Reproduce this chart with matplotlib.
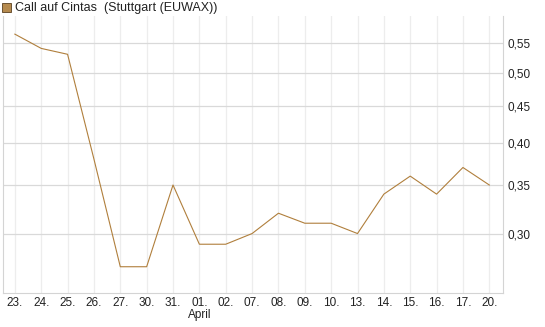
import numpy as np
import matplotlib.pyplot as plt
import matplotlib.ticker as mticker
from matplotlib.patches import Rectangle

plt.rcParams['font.family'] = ['Liberation Sans', 'DejaVu Sans']

days = ['23.', '24.', '25.', '26.', '27.', '30.', '31.', '01.', '02.', '07.',
        '08.', '09.', '10.', '13.', '14.', '15.', '16.', '17.', '20.']
prices = [0.565, 0.54, 0.53, 0.38, 0.27, 0.27, 0.35, 0.29, 0.29, 0.30,
          0.32, 0.31, 0.31, 0.30, 0.34, 0.36, 0.34, 0.37, 0.35]
yticks = [0.30, 0.35, 0.40, 0.45, 0.50, 0.55]
month_label = 'April'
month_at = 7
title = 'Call auf Cintas  (Stuttgart (EUWAX))'

line_col = '#b07f3c'
fig = plt.figure(figsize=(5.45, 3.27), dpi=100)
ax = fig.add_axes([3/545, 34/327, 500/545, 277/327])

x = np.arange(len(days))
ax.plot(x, prices, color=line_col, lw=0.8)

ax.set_yscale('log')
ax.set_ylim(0.2484, 0.5985)
ax.set_xlim(-0.45, len(days) - 0.48)

ax.yaxis.set_major_locator(mticker.FixedLocator(yticks))
ax.yaxis.set_minor_locator(mticker.NullLocator())
ax.yaxis.set_major_formatter(mticker.FixedFormatter([f'{v:.2f}'.replace('.', ',') for v in yticks]))
ax.yaxis.tick_right()
ax.set_xticks(x)
ax.set_xticklabels(days)

ax.tick_params(axis='both', length=0, labelsize=8.5, colors='#222222')
ax.tick_params(axis='y', pad=3)
ax.tick_params(axis='x', pad=3)

ax.grid(axis='y', color='#d9d9d9', lw=0.9)
ax.grid(axis='x', color='#ededed', lw=0.9)
ax.set_axisbelow(True)

for s in ['left', 'bottom', 'right']:
    ax.spines[s].set_color('#d4d4d4')
ax.spines['top'].set_visible(False)

ax.annotate(month_label, xy=(month_at, 0), xycoords=('data', 'axes fraction'),
            xytext=(0, -16), textcoords='offset points', ha='center', va='center',
            fontsize=8.5, color='#222222')

fig.patches.append(Rectangle((2/545, 1 - 12/327), 9/545, 9/327, transform=fig.transFigure,
                             facecolor='#b58a4e', edgecolor='#5a4020', lw=0.6))
fig.text(15/545, 1 - 7.5/327, title, fontsize=9, va='center', ha='left', color='#222222')

fig.savefig('out.png', dpi=100)
